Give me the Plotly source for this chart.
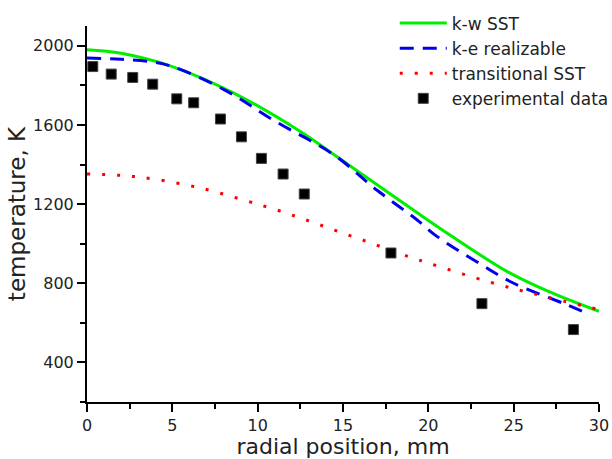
import plotly.graph_objects as go

# k-w SST
x_sst = [0, 2, 5, 8.6, 12.5, 14.06, 17, 19.52, 20.8, 24.6, 27, 30]
t_sst = [1980, 1962, 1895, 1761, 1567, 1475, 1298, 1146, 1071, 860, 760, 658]
# k-e realizable
x_ke = [0, 2, 3.85, 5, 8, 11, 14.45, 17, 19.33, 20.5, 23, 25, 28.1, 29.5]
t_ke = [1938, 1932, 1918, 1895, 1780, 1620, 1450, 1270, 1121, 1037, 900, 800, 692, 641]
# transitional SST
x_tr = [0, 2, 3.9, 6.66, 9.32, 11.13, 12.9, 14.65, 16.46, 18.22, 20, 23.6, 26.4, 30]
t_tr = [1352, 1345, 1327, 1281, 1217, 1170, 1118, 1064, 1009, 953, 902, 806, 742, 667]
# experimental data
x_exp = [0.34, 1.42, 2.68, 3.85, 5.26, 6.25, 7.82, 9.05, 10.22, 11.49, 12.73, 17.81, 23.14, 28.5]
t_exp = [1895, 1857, 1840, 1806, 1732, 1712, 1630, 1540, 1431, 1352, 1251, 953, 697, 566]

fig = go.Figure()
fig.add_trace(go.Scatter(x=x_sst, y=t_sst, mode="lines", name="k-w SST",
                         line=dict(color="#00ee00", width=3, shape="spline")))
fig.add_trace(go.Scatter(x=x_ke, y=t_ke, mode="lines", name="k-e realizable",
                         line=dict(color="#0000ee", width=3, shape="spline", dash="14px,9px")))
fig.add_trace(go.Scatter(x=x_tr, y=t_tr, mode="lines", name="transitional SST",
                         line=dict(color="#ff0000", width=3, shape="spline", dash="3px,12px")))
fig.add_trace(go.Scatter(x=x_exp, y=t_exp, mode="markers", name="experimental data",
                         marker=dict(symbol="square", size=10, color="black",
                                     line=dict(color="#444444", width=1))))

font = "DejaVu Sans, sans-serif"
fig.update_layout(
    width=612, height=459,
    margin=dict(l=87, r=13, t=26, b=57, autoexpand=False),
    paper_bgcolor="white", plot_bgcolor="white",
    font=dict(family=font, size=16, color="#222222"),
    legend=dict(xref="container", yref="container", x=0.645, y=0.988,
                xanchor="left", yanchor="top",
                bgcolor="rgba(0,0,0,0)", font=dict(size=17), itemwidth=47,
                tracegroupgap=0),
    xaxis=dict(range=[0, 30], dtick=5, tick0=0, showgrid=False, zeroline=False,
               automargin=False,
               showline=True, linecolor="black", linewidth=2,
               ticks="outside", ticklen=8, tickwidth=2, tickcolor="black",
               minor=dict(dtick=2.5, ticks="outside", ticklen=5, tickwidth=2, tickcolor="black"),
               title=dict(text="radial position, mm", font=dict(size=22), standoff=4)),
    yaxis=dict(range=[200, 2100], dtick=400, tick0=0, showgrid=False, zeroline=False,
               automargin=False,
               showline=True, linecolor="black", linewidth=2,
               ticks="outside", ticklen=8, tickwidth=2, tickcolor="black",
               minor=dict(dtick=200, ticks="outside", ticklen=5, tickwidth=2, tickcolor="black"),
               title=dict(text="temperature, K", font=dict(size=23), standoff=1)),
)

fig.write_html("out.html")
